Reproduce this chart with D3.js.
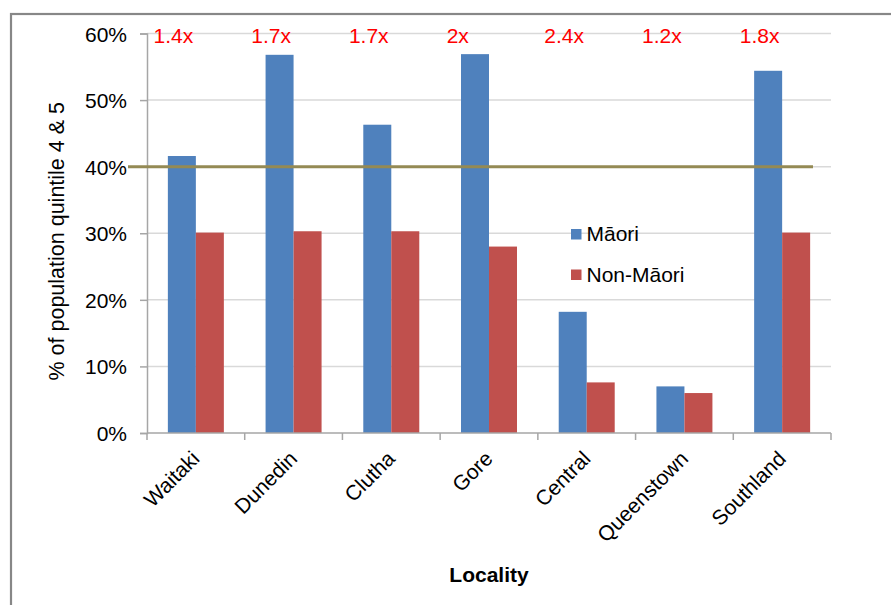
<!DOCTYPE html>
<html>
<head>
<meta charset="utf-8">
<script src="https://cdn.jsdelivr.net/npm/d3@7"></script>
<style>
  html, body { margin: 0; padding: 0; background: #fff; }
  svg { display: block; font-family: "Liberation Sans", Arial, sans-serif; }
</style>
</head>
<body>
<svg id="chart" width="891" height="605"></svg>
<script>
// Share of each locality's population in deprivation quintiles 4 & 5
const localities = ["Waitaki", "Dunedin", "Clutha", "Gore", "Central", "Queenstown", "Southland"];
const maori     = [41.6, 56.8, 46.3, 56.9, 18.2, 7.0, 54.4];
const nonMaori  = [30.1, 30.3, 30.3, 28.0, 7.6, 6.0, 30.1];
const ratioLabels = ["1.4x", "1.7x", "1.7x", "2x", "2.4x", "1.2x", "1.8x"];
const referenceLevel = 40;
const yTicks = [0, 10, 20, 30, 40, 50, 60];
const seriesNames = ["Māori", "Non-Māori"];
const seriesColors = ["#4F81BD", "#C0504D"];

const FONT = 21;
const svg = d3.select("#chart");

// outer chart frame (left and top edges fall inside the view)
svg.append("rect")
  .attr("x", 11).attr("y", 14)
  .attr("width", 900).attr("height", 620)
  .attr("fill", "none")
  .attr("stroke", "#878787")
  .attr("stroke-width", 2.2);

const plot = { left: 147, right: 831, top: 33.5, bottom: 433 };

const x = d3.scaleBand()
  .domain(localities)
  .range([plot.left, plot.right])
  .paddingInner(0)
  .paddingOuter(0);

const y = d3.scaleLinear()
  .domain([0, 60])
  .range([plot.bottom, plot.top]);

const inner = d3.scaleBand()
  .domain(seriesNames)
  .range([0, x.bandwidth()])
  .paddingOuter(0.745)
  .paddingInner(0);

// horizontal gridlines
svg.append("g")
  .selectAll("line")
  .data(yTicks.filter(t => t > 0))
  .join("line")
  .attr("x1", plot.left).attr("x2", plot.right)
  .attr("y1", d => y(d)).attr("y2", d => y(d))
  .attr("stroke", "#D9D9D9")
  .attr("stroke-width", 1.5);

// bars
const groups = svg.append("g")
  .selectAll("g")
  .data(localities.map((loc, i) => ({ loc, values: [maori[i], nonMaori[i]] })))
  .join("g")
  .attr("transform", d => `translate(${x(d.loc)},0)`);

groups.selectAll("rect")
  .data(d => d.values.map((v, j) => ({ name: seriesNames[j], v, color: seriesColors[j] })))
  .join("rect")
  .attr("x", d => inner(d.name))
  .attr("width", inner.bandwidth())
  .attr("y", d => y(d.v))
  .attr("height", d => y(0) - y(d.v))
  .attr("fill", d => d.color);

// y axis
const yAxis = d3.axisLeft(y)
  .tickValues(yTicks)
  .tickFormat(d => d + "%")
  .tickSize(7)
  .tickPadding(13);

const yg = svg.append("g")
  .attr("transform", `translate(${plot.left},0)`)
  .call(yAxis);
yg.select(".domain").attr("stroke", "#A6A6A6").attr("stroke-width", 1.5);
yg.selectAll(".tick line").attr("stroke", "#A6A6A6").attr("stroke-width", 1.5);
yg.selectAll(".tick text")
  .attr("font-size", FONT)
  .attr("dy", "0.36em")
  .attr("fill", "#000")
  .attr("font-family", "Liberation Sans, Arial, sans-serif");

// x axis line with boundary ticks
const bounds = localities.map(l => x(l)).concat([plot.right]);
svg.append("line")
  .attr("x1", plot.left).attr("x2", plot.right)
  .attr("y1", plot.bottom).attr("y2", plot.bottom)
  .attr("stroke", "#A6A6A6").attr("stroke-width", 1.5);
svg.append("g").selectAll("line")
  .data(bounds)
  .join("line")
  .attr("x1", d => d).attr("x2", d => d)
  .attr("y1", plot.bottom).attr("y2", plot.bottom + 7)
  .attr("stroke", "#A6A6A6").attr("stroke-width", 1.5);

// rotated category labels
svg.append("g").selectAll("text")
  .data(localities)
  .join("text")
  .attr("transform", d => `translate(${x(d) + x.bandwidth() / 2 + 5},${plot.bottom + 27}) rotate(-45)`)
  .attr("text-anchor", "end")
  .attr("font-size", FONT)
  .attr("fill", "#000")
  .text(d => d);

// 40% reference line
svg.append("line")
  .attr("x1", plot.left - 19).attr("x2", plot.right - 18)
  .attr("y1", y(referenceLevel)).attr("y2", y(referenceLevel))
  .attr("stroke", "#948A54")
  .attr("stroke-width", 3);

// Māori / non-Māori ratio labels
svg.append("g").selectAll("text")
  .data(localities)
  .join("text")
  .attr("x", d => x(d) + 6.5)
  .attr("y", 43)
  .attr("font-size", FONT)
  .attr("fill", "#FF0000")
  .text((d, i) => ratioLabels[i]);

// axis titles
svg.append("text")
  .attr("transform", `translate(64,${(plot.top + plot.bottom) / 2 + 8}) rotate(-90)`)
  .attr("text-anchor", "middle")
  .attr("font-size", 21.5)
  .attr("fill", "#000")
  .text("% of population quintile 4 & 5");

svg.append("text")
  .attr("x", (plot.left + plot.right) / 2)
  .attr("y", 582)
  .attr("text-anchor", "middle")
  .attr("font-size", 21)
  .attr("font-weight", "bold")
  .attr("fill", "#000")
  .text("Locality");

// legend
const legend = svg.append("g").attr("transform", "translate(571,229)");
const items = legend.selectAll("g")
  .data(seriesNames)
  .join("g")
  .attr("transform", (d, i) => `translate(0,${i * 40.5})`);
items.append("rect")
  .attr("width", 10.5).attr("height", 10.5)
  .attr("fill", (d, i) => seriesColors[i]);
items.append("text")
  .attr("x", 15.5).attr("y", 12)
  .attr("font-size", 21)
  .attr("fill", "#000")
  .text(d => d);
</script>
</body>
</html>
